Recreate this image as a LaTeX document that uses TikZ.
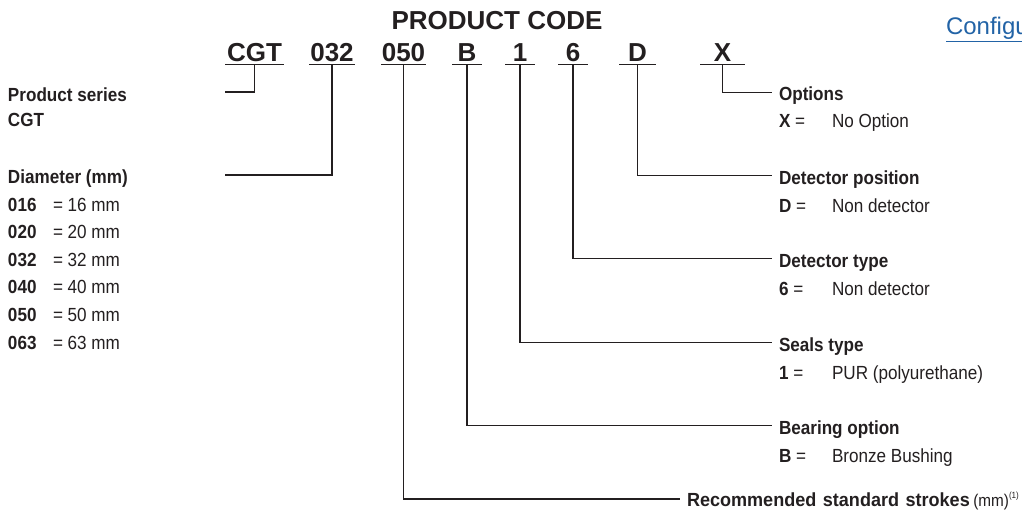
\documentclass[tikz,border=0pt]{standalone}
\usepackage{fontspec}
\setmainfont{Liberation Sans}
\newfontfamily\narrowfont[FakeStretch=0.9]{Liberation Sans}
\newfontfamily\notefont[FakeStretch=0.95]{Liberation Sans}
\usepackage{tikz}
\usetikzlibrary{positioning}
\definecolor{tinta}{HTML}{231F20}
\definecolor{azullink}{HTML}{2263A6}

\begin{document}
\begin{tikzpicture}[x=1pt,y=-1pt,
  every node/.style={inner sep=0pt,outer sep=0pt,text=tinta},
  big/.style={font=\fontsize{26}{28}\selectfont\bfseries,anchor=base},
  code/.style={big,minimum width=#1},
  title/.style={font=\narrowfont\fontsize{19}{22}\selectfont\bfseries,anchor=base west},
  val/.style={font=\narrowfont\fontsize{19}{22}\selectfont,anchor=base west},
  link/.style={font=\fontsize{24}{26}\selectfont,text=azullink,anchor=base west},
  wire/.style={draw=tinta,line width=1.4pt}
]
  \useasboundingbox (0,0) rectangle (1022,516);
  \node[big] (head) at (497,30) {PRODUCT CODE};
  \node[link] (cfg) at (946,35) {\underline{Configu}};
  \node[code=59pt] (cgt) at (254.5,62) {CGT};
  \node[code=46pt] (dia) at (332,62) {032};
  \node[code=45pt] (stroke) at (403.5,62) {050};
  \node[code=30pt] (bear) at (467,62) {B};
  \node[code=30pt] (seal) at (520,62) {1};
  \node[code=30pt] (dtype) at (573,62) {6};
  \node[code=37pt] (dpos) at (637.5,62) {D};
  \node[code=45pt] (opt) at (722.5,62) {X};
  \foreach \n in {cgt,dia,stroke,bear,seal,dtype,dpos,opt}
    \draw[wire] ([yshift=-2.5pt]\n.base west) -- ([yshift=-2.5pt]\n.base east);

  \node[title] (serl) at (8,101.7) {Product series};
  \node[title,below=25pt of serl.base west,anchor=base west] (serv) {CGT};
  \node[title] (dial) at (8,183.4) {Diameter (mm)};
  \foreach \c/\v [count=\i] in {016/16,020/20,032/32,040/40,050/50,063/63}
    \node[val] (d\c) at (8,{183.4+27.6*\i}) {\makebox[45pt][l]{\textbf{\c}}= \v\ mm};
  \coordinate (serend) at (225,92);
  \coordinate (diaend) at (225,175);

  \node[title] (optl) at (779,101) {Options};
  \node[val,below=27pt of optl.base west,anchor=base west] (optv) {\makebox[53pt][l]{\textbf{X} =}No Option};
  \node[title] (dposl) at (779,184) {Detector position};
  \node[val,below=28pt of dposl.base west,anchor=base west] (dposv) {\makebox[53pt][l]{\textbf{D} =}Non detector};
  \node[title] (dtypel) at (779,267) {Detector type};
  \node[val,below=28pt of dtypel.base west,anchor=base west] (dtypev) {\makebox[53pt][l]{\textbf{6} =}Non detector};
  \node[title] (seall) at (779,351) {Seals type};
  \node[val,below=28pt of seall.base west,anchor=base west] (sealv) {\makebox[53pt][l]{\textbf{1} =}PUR (polyurethane)};
  \node[title] (bearl) at (779,434) {Bearing option};
  \node[val,below=28pt of bearl.base west,anchor=base west] (bearv) {\makebox[53pt][l]{\textbf{B} =}Bronze Bushing};
  \node[title] (strokel) at (687,506) {{\notefont\bfseries\spaceskip=6.5pt Recommended standard strokes}\hspace{3.5pt}{\mdseries\fontsize{17}{20}\selectfont(mm)}\raisebox{8pt}{\mdseries\fontsize{9}{9}\selectfont(1)}};

  \draw[wire] ([yshift=-2.5pt]cgt.base) |- (serend);
  \draw[wire] ([yshift=-2.5pt]dia.base) |- (diaend);
  \draw[wire] ([yshift=-2.5pt]opt.base) |- ([xshift=-7pt,yshift=8.5pt]optl.base west);
  \draw[wire] ([yshift=-2.5pt]dpos.base) |- ([xshift=-7pt,yshift=8.5pt]dposl.base west);
  \draw[wire] ([yshift=-2.5pt]dtype.base) |- ([xshift=-7pt,yshift=8.5pt]dtypel.base west);
  \draw[wire] ([yshift=-2.5pt]seal.base) |- ([xshift=-7pt,yshift=8.5pt]seall.base west);
  \draw[wire] ([yshift=-2.5pt]bear.base) |- ([xshift=-7pt,yshift=8.5pt]bearl.base west);
  \draw[wire] ([yshift=-2.5pt]stroke.base) |- ([xshift=-7pt,yshift=7pt]strokel.base west);
\end{tikzpicture}
\end{document}
